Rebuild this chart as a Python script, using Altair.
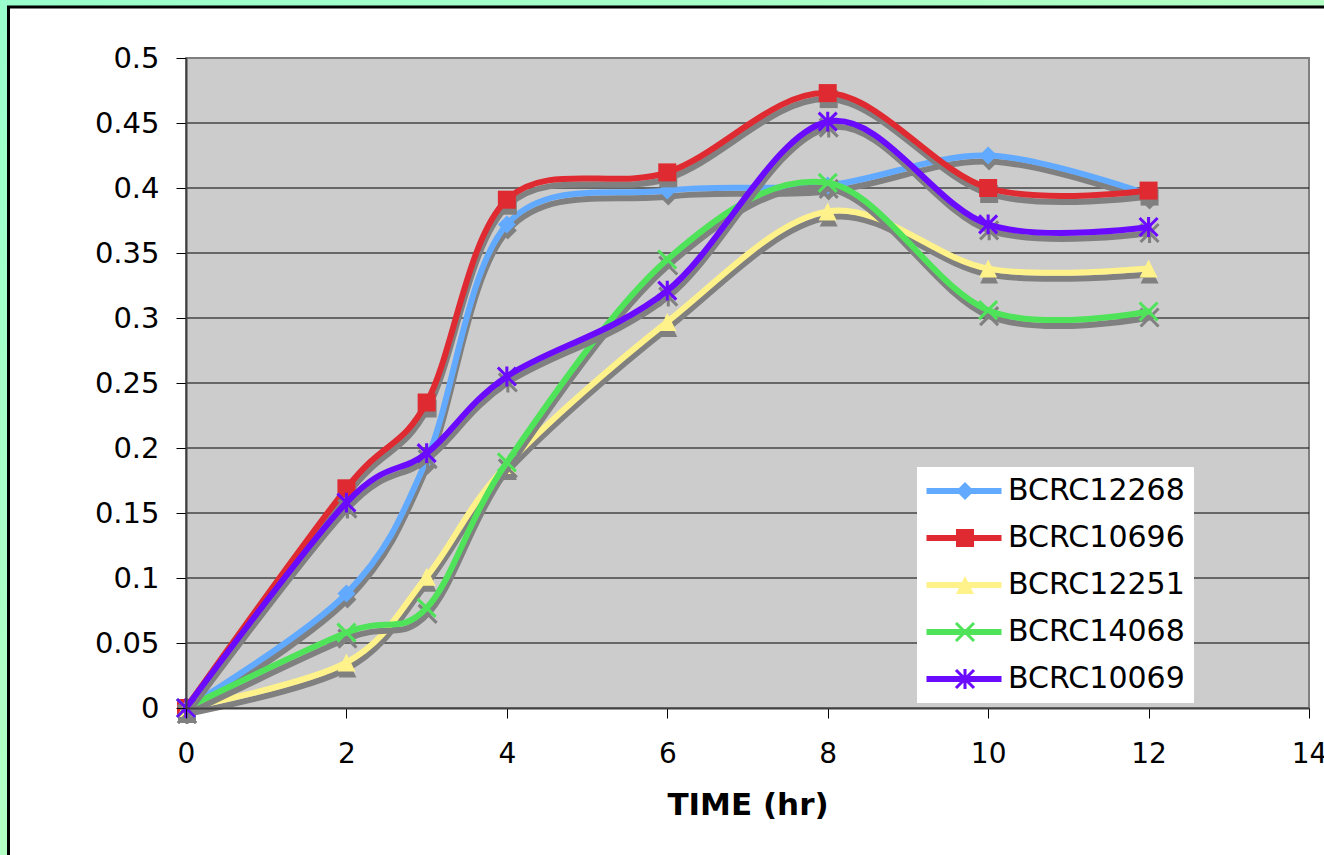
import altair as alt
import pandas as pd

# Sampling times (hr) and readings for each strain
hours = [0, 2, 3, 4, 6, 8, 10, 12]
series_names = ["BCRC12268", "BCRC10696", "BCRC12251", "BCRC14068", "BCRC10069"]
bcrc12268 = [0, 0.088, 0.191, 0.372, 0.398, 0.402, 0.425, 0.395]
bcrc10696 = [0, 0.169, 0.235, 0.391, 0.412, 0.473, 0.400, 0.398]
bcrc12251 = [0, 0.035, 0.101, 0.187, 0.297, 0.382, 0.338, 0.338]
bcrc14068 = [0, 0.058, 0.077, 0.189, 0.345, 0.404, 0.306, 0.305]
bcrc10069 = [0, 0.158, 0.196, 0.255, 0.321, 0.451, 0.372, 0.370]
series_values = [bcrc12268, bcrc10696, bcrc12251, bcrc14068, bcrc10069]

x_ticks = [0, 2, 4, 6, 8, 10, 12, 14]
y_ticks = [0, 0.05, 0.1, 0.15, 0.2, 0.25, 0.3, 0.35, 0.4, 0.45, 0.5]
grid_values = y_ticks[1:-1]

line_colors = ["#62AAFF", "#DE2A30", "#FFF28A", "#4FE35A", "#6A0AFF"]
# Filled marker outlines: diamond, square, triangle, x, asterisk
marker_paths = [
    "M0,-1L1,0L0,1L-1,0Z",
    "M-1,-1H1V1H-1Z",
    "M0,-1L1,1H-1Z",
    "M-1.12,-0.88L0.88,1.12L1.12,0.88L-0.88,-1.12Z"
    "M-0.88,1.12L1.12,-0.88L0.88,-1.12L-1.12,0.88Z",
    "M-1.12,-0.88L0.88,1.12L1.12,0.88L-0.88,-1.12Z"
    "M-0.88,1.12L1.12,-0.88L0.88,-1.12L-1.12,0.88Z"
    "M-0.17,-1.1L-0.17,1.1L0.17,1.1L0.17,-1.1Z",
]
marker_keys = [name + " " for name in series_names]

W, H = 1123, 650
FONT = "DejaVu Sans"
SHADOW = "#808080"

rows = []
for name, key, vals in zip(series_names, marker_keys, series_values):
    for h, v in zip(hours, vals):
        rows.append({"hour": h, "value": v, "series": name, "marker": key})
df = pd.DataFrame(rows)

axis_style = dict(
    labelFont=FONT, labelColor="black", domainColor="#404040", labelFlush=False,
    domainWidth=2, tickColor="black", tickSize=10, tickWidth=1, grid=False, zindex=1,
)
x_enc = alt.X(
    "hour:Q",
    scale=alt.Scale(domain=[0, 14], nice=False, zero=False),
    axis=alt.Axis(values=x_ticks, title="TIME (hr)", labelFontSize=28, labelPadding=22,
                  titlePadding=22, titleFont=FONT, titleColor="black",
                  titleFontWeight="bold", titleFontSize=31, **axis_style),
)
y_enc = alt.Y(
    "value:Q",
    scale=alt.Scale(domain=[0, 0.5], nice=False),
    axis=alt.Axis(values=y_ticks, format="~g", title=None, labelFontSize=29,
                  labelPadding=17, **axis_style),
)

color_scale = alt.Scale(domain=series_names, range=line_colors)
fill_scale = alt.Scale(domain=marker_keys, range=line_colors)
shape_scale = alt.Scale(domain=marker_keys, range=marker_paths)

line_legend = alt.Legend(
    title=None, orient="none", legendX=731, legendY=409, fillColor="white",
    padding=9, symbolType="M-5,0H5", symbolSize=225, symbolStrokeWidth=6,
    symbolOffset=23, labelOffset=29, labelFont=FONT, labelFontSize=30,
    labelColor="black", labelLimit=400, rowPadding=17, zindex=1,
)
marker_legend = alt.Legend(
    title=None, orient="none", legendX=731, legendY=409, padding=9,
    symbolSize=324, symbolStrokeWidth=0, symbolOffset=24, labelOffset=29,
    labelFont=FONT, labelFontSize=30, labelOpacity=0, labelLimit=400,
    rowPadding=17, zindex=2,
)

one = alt.Data(values=[{}])

backdrop = alt.Chart(one).mark_rect(
    fill=alt.Gradient(
        gradient="linear",
        stops=[alt.GradientStop(color="#99FFCC", offset=0),
               alt.GradientStop(color="#CCFFBB", offset=1)],
        x1=0, y1=0, x2=1, y2=1,
    )
).encode(x=alt.value(-186), x2=alt.value(W + 15), y=alt.value(-58), y2=alt.value(H + 147))

frame = alt.Chart(one).mark_rect(fill="white", stroke="black", strokeWidth=3).encode(
    x=alt.value(-177.5), x2=alt.value(W + 40), y=alt.value(-51), y2=alt.value(H + 170)
)

plot_bg = alt.Chart(one).mark_rect(fill="#CCCCCC", stroke=SHADOW, strokeWidth=2).encode(
    x=alt.value(0), x2=alt.value(W), y=alt.value(0), y2=alt.value(H)
)

grid = alt.Chart(pd.DataFrame({"value": grid_values})).mark_rule(
    color="black", strokeWidth=1
).encode(y=y_enc, x=alt.value(0), x2=alt.value(W))

layers = [backdrop, frame, plot_bg, grid]
base = alt.Chart(df)
for name, path in zip(series_names, marker_paths):
    sub = base.transform_filter(alt.datum.series == name)
    shadow_line = sub.mark_line(
        interpolate="cardinal", strokeWidth=6, color=SHADOW, xOffset=1, yOffset=6,
        strokeCap="round", strokeJoin="round",
    ).encode(x=x_enc, y=y_enc)
    shadow_pts = sub.mark_point(
        filled=True, size=324, shape=path, color=SHADOW, opacity=1,
        xOffset=1, yOffset=6,
    ).encode(x=x_enc, y=y_enc)
    line = sub.mark_line(
        interpolate="cardinal", strokeWidth=6, strokeCap="round", strokeJoin="round",
    ).encode(
        x=x_enc, y=y_enc,
        color=alt.Color("series:N", scale=color_scale, legend=line_legend),
    )
    pts = sub.mark_point(filled=True, size=324, opacity=1, strokeWidth=0).encode(
        x=x_enc, y=y_enc,
        fill=alt.Fill("marker:N", scale=fill_scale, legend=marker_legend),
        shape=alt.Shape("marker:N", scale=shape_scale, legend=marker_legend),
    )
    layers += [shadow_line, shadow_pts, line, pts]

chart = alt.layer(*layers).properties(
    width=W, height=H,
    padding={"left": 186, "top": 58, "right": 15, "bottom": 147},
    autosize=alt.AutoSizeParams(type="none"),
).configure(background="#B0FFC8").configure_view(stroke=None)

chart.save("out.html", embed_options={"renderer": "svg", "actions": False})
